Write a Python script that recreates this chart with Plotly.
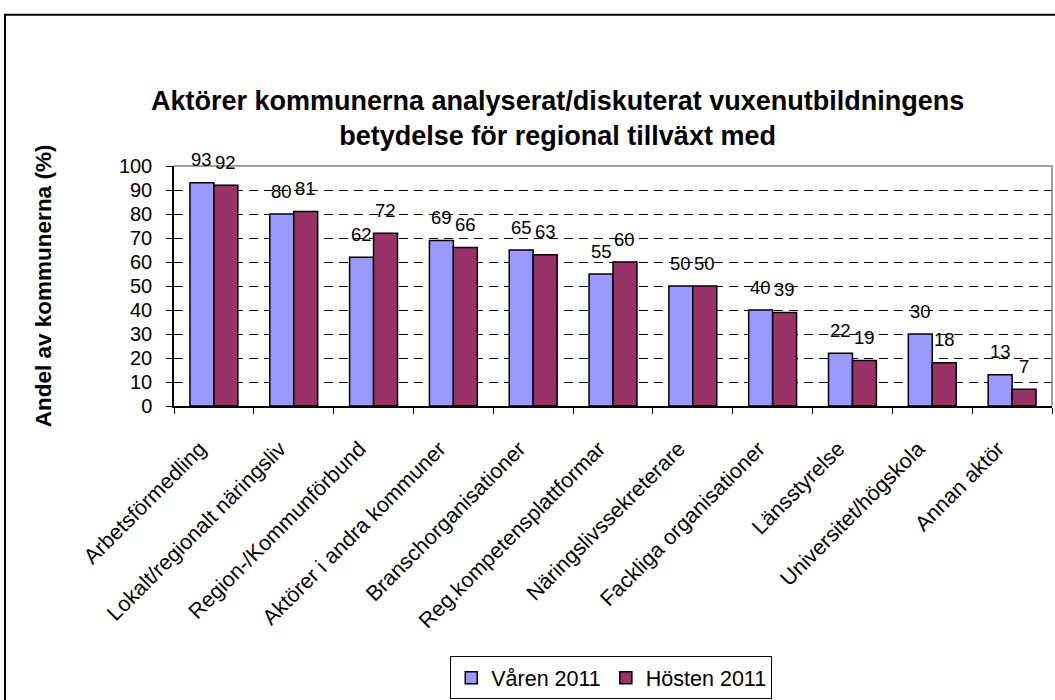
import plotly.graph_objects as go

categories = ["Arbetsförmedling", "Lokalt/regionalt näringsliv", "Region-/Kommunförbund",
              "Aktörer i andra kommuner", "Branschorganisationer", "Reg.kompetensplattformar",
              "Näringslivssekreterare", "Fackliga organisationer", "Länsstyrelse",
              "Universitet/högskola", "Annan aktör"]
varen_2011 = [93, 80, 62, 69, 65, 55, 50, 40, 22, 30, 13]
hosten_2011 = [92, 81, 72, 66, 63, 60, 50, 39, 19, 18, 7]
series_names = ["Våren 2011", "Hösten 2011"]
y_ticks = list(range(0, 101, 10))

FONT = "Liberation Sans, Arial, sans-serif"

fig = go.Figure()
fig.add_trace(go.Bar(x=categories, y=varen_2011, name=series_names[0],
                     marker=dict(color="#9999FF", line=dict(color="black", width=1.5))))
fig.add_trace(go.Bar(x=categories, y=hosten_2011, name=series_names[1],
                     marker=dict(color="#993366", line=dict(color="black", width=1.5))))

annotations = []
for i, (a, b) in enumerate(zip(varen_2011, hosten_2011)):
    for off, v in ((-0.15, a), (0.15, b)):
        annotations.append(dict(x=i + off, y=v, xref="x", yref="y", text=str(v),
                                showarrow=False, yanchor="middle", yshift=23,
                                font=dict(family=FONT, size=18.5, color="black")))

annotations.append(dict(text="Aktörer kommunerna analyserat/diskuterat vuxenutbildningens<br>betydelse för regional tillväxt med",
                        xref="paper", yref="paper", x=0.4368, y=1.197, showarrow=False,
                        xanchor="center", yanchor="middle",
                        font=dict(family=FONT, size=27, color="black", weight="bold")))
annotations.append(dict(text="Andel av kommunerna (%)", xref="paper", yref="paper",
                        x=-0.149, y=0.5, showarrow=False, textangle=-90,
                        xanchor="center", yanchor="middle",
                        font=dict(family=FONT, size=22.5, color="black", weight="bold")))

shapes = [
    dict(type="rect", xref="paper", yref="paper", x0=-0.1925, y0=-1.3, x1=1.02, y1=1.63,
         line=dict(color="black", width=2), fillcolor="rgba(0,0,0,0)", layer="below"),
    dict(type="line", xref="paper", yref="paper", x0=0, y0=1, x1=1, y1=1,
         line=dict(color="#808080", width=1.5)),
    dict(type="line", xref="paper", yref="paper", x0=1, y0=0, x1=1, y1=1,
         line=dict(color="#808080", width=1.5)),
]

fig.update_layout(
    width=1055, height=700,
    margin=dict(l=174, r=3, t=166, b=293),
    paper_bgcolor="white", plot_bgcolor="white",
    barmode="group", bargap=0.4, bargroupgap=0,
    font=dict(family=FONT, size=20, color="black"),
    showlegend=True,
    legend=dict(orientation="h", x=0.498, y=-1.124, xanchor="center", yanchor="middle",
                bordercolor="black", borderwidth=1, bgcolor="white",
                font=dict(family=FONT, size=21.5, color="black"),
                itemwidth=30, tracegroupgap=0),
    annotations=annotations,
    shapes=shapes,
)
fig.update_xaxes(type="category", tickangle=-45, tickson="boundaries", ticks="outside",
                 ticklen=6, tickcolor="black", showline=True, linecolor="black", linewidth=1.5,
                 showgrid=False, ticklabelstandoff=20, ticklabelshift=-14,
                 tickfont=dict(family=FONT, size=21.5, color="black"))
fig.update_yaxes(range=[0, 100], tickvals=y_ticks, ticks="outside", ticklen=6,
                 tickcolor="black", showline=True, linecolor="black", linewidth=1.5,
                 showgrid=True, gridcolor="black", gridwidth=1, griddash="9px,6px",
                 zeroline=False, ticklabelstandoff=10,
                 tickfont=dict(family=FONT, size=20, color="black"))

fig.write_html("out.html", config={"displayModeBar": False},
               post_script="document.body.style.margin='0';")
